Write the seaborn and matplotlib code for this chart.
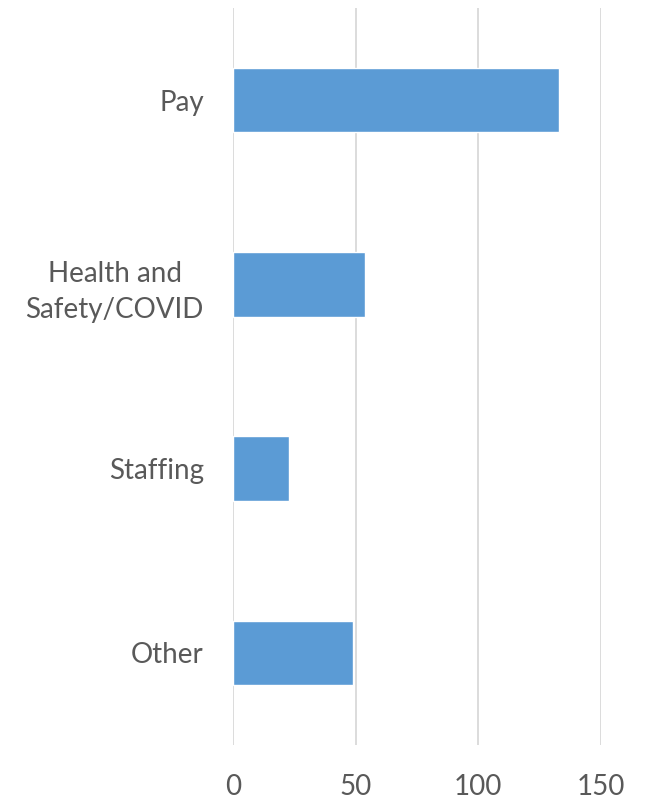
import matplotlib
matplotlib.use("Agg")
import matplotlib.pyplot as plt
import seaborn as sns
import pandas as pd

categories = ["Pay", "Health and\nSafety/COVID", "Staffing", "Other"]
counts = [133, 54, 23, 49]
x_ticks = [0, 50, 100, 150]

df = pd.DataFrame({"category": categories, "count": counts})

sns.set_theme(style="white")
plt.rcParams["font.family"] = ["Lato", "DejaVu Sans"]

fig = plt.figure(figsize=(6.56, 8.01), dpi=100)
ax = fig.add_axes([233 / 656, 1 - 745 / 801, (601 - 233) / 656, (745 - 8) / 801])

sns.barplot(data=df, x="count", y="category", color="#5B9BD5", saturation=1,
            width=0.35, ax=ax, zorder=3)

ax.set_xlim(0, 150)
ax.set_ylim(3.5, -0.5)
ax.set_xticks(x_ticks)
ax.set_xlabel("")
ax.set_ylabel("")
ax.grid(axis="x", color="#D9D9D9", linewidth=1.3, zorder=0)
ax.grid(axis="y", visible=False)
for s in ax.spines.values():
    s.set_visible(False)
ax.tick_params(axis="x", length=0, pad=21, labelsize=20, labelcolor="#595959")
ax.tick_params(axis="y", length=0, pad=21, labelsize=20, labelcolor="#595959")
for lbl in ax.get_yticklabels():
    lbl.set_multialignment("center")
    lbl.set_linespacing(1.5)

fig.savefig("out.png", dpi=100)
